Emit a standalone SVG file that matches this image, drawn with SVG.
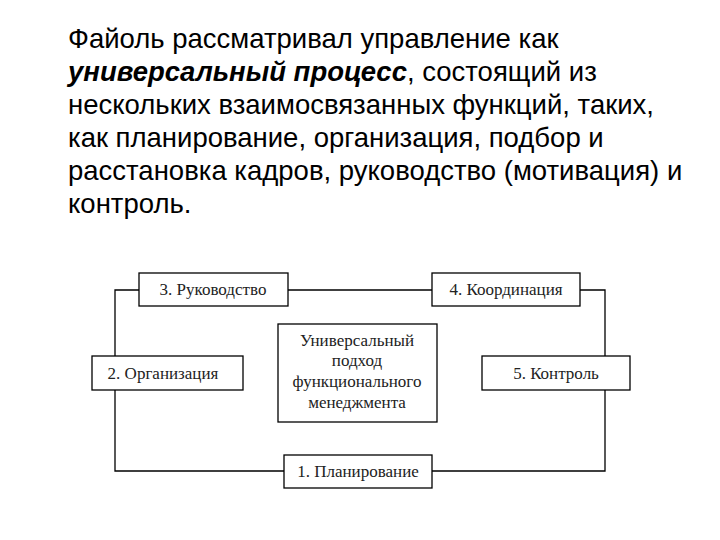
<svg xmlns="http://www.w3.org/2000/svg" width="720" height="540" viewBox="0 0 720 540">
<style>
.p{font-family:"Liberation Sans",Arial,sans-serif;font-size:27.5px;fill:#000}
.b{fill:#fff;stroke:#000;stroke-width:1.3}
.t{font-family:"Liberation Serif","Times New Roman",serif;font-size:17px;fill:#222;text-anchor:middle}
.c{fill:none;stroke:#000;stroke-width:1.3}
</style>
<rect width="720" height="540" fill="#fff"/>
<text class="p" x="68" y="48">Файоль рассматривал управление как</text>
<text class="p" x="68" y="81"><tspan font-weight="bold" font-style="italic">универсальный процесс</tspan>, состоящий из</text>
<text class="p" x="68" y="114">нескольких взаимосвязанных функций, таких,</text>
<text class="p" x="68" y="147">как планирование, организация, подбор и</text>
<text class="p" x="68" y="180">расстановка кадров, руководство (мотивация) и</text>
<text class="p" x="68" y="213">контроль.</text>
<g id="connectors">
<polyline class="c" points="139,290 115,290 115,471 284,471"/>
<line class="c" x1="288" y1="290" x2="432" y2="290"/>
<polyline class="c" points="580,290 605,290 605,471 432,471"/>
</g>
<g id="n3"><rect class="b" x="139" y="273" width="149" height="33"/><text class="t" x="213" y="295">3. Руководство</text></g>
<g id="n4"><rect class="b" x="432" y="273" width="148" height="33"/><text class="t" x="506" y="295">4. Координация</text></g>
<g id="n2"><rect class="b" x="92" y="356" width="151" height="34"/><text class="t" x="163" y="379">2. Организация</text></g>
<g id="n5"><rect class="b" x="482" y="356" width="148" height="34"/><text class="t" x="556" y="379">5. Контроль</text></g>
<g id="n1"><rect class="b" x="284" y="455" width="148" height="33"/><text class="t" x="358" y="477">1. Планирование</text></g>
<g id="n0"><rect class="b" x="278" y="324" width="159" height="98"/>
<text class="t" x="357" y="346">Универсальный</text>
<text class="t" x="357" y="366">подход</text>
<text class="t" x="357" y="387">функционального</text>
<text class="t" x="357" y="408">менеджмента</text></g>
</svg>
